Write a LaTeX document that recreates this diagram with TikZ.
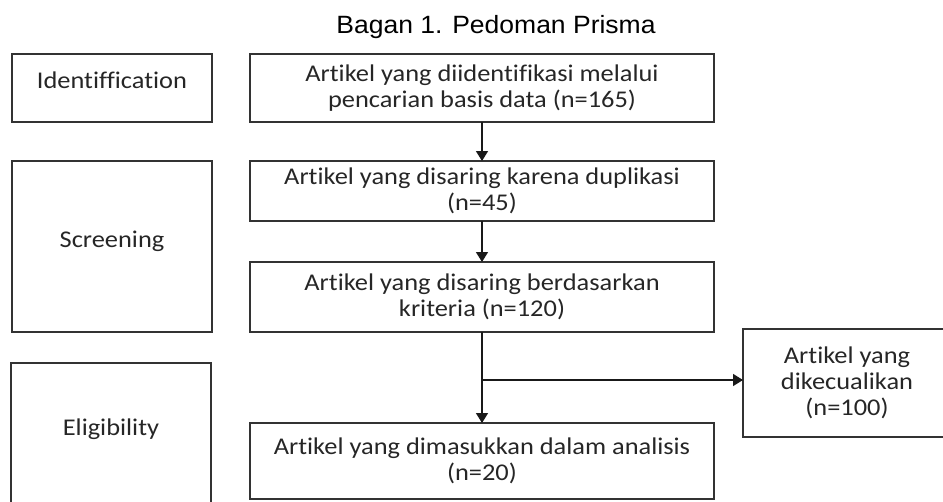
\documentclass[tikz,border=0pt]{standalone}
\usepackage{fontspec}
\setmainfont{Carlito}[FakeStretch=1.1, Ligatures=NoCommon]
\newfontfamily\titlefont{Liberation Sans}[FakeStretch=1.06]
\usetikzlibrary{positioning, arrows.meta}

\begin{document}
\begin{tikzpicture}[x=1pt, y=-1pt, >={Triangle[length=10pt,width=12pt]},
    box/.style={draw=black!80, line width=1.8pt, rectangle, minimum width=464pt, align=center,
        inner sep=0pt, outer sep=0pt, font=\fontsize{24}{26}\selectfont, text=black!85},
    stagebox/.style={draw=black!80, line width=1.8pt, rectangle, minimum width=200pt,
        inner sep=0pt, outer sep=0pt},
    stagetext/.style={font=\fontsize{24}{26}\selectfont, text=black!85},
    flow/.style={->, line width=1.5pt, black!90}]
    \useasboundingbox (0,0) rectangle (943,501);

    \node[font=\titlefont\fontsize{25}{30}\selectfont, anchor=base] (title) at (496,33) {Bagan 1. Pedoman Prisma};

    % main column
    \node[box, minimum height=68pt] (search) at (482,88) {Artikel yang diidentifikasi melalui\\pencarian basis data (n=165)};
    \node[box, minimum height=60pt, below=39pt of search] (dup) {Artikel yang disaring karena duplikasi\\(n=45)};
    \node[box, minimum height=70pt, below=41pt of dup] (crit) {Artikel yang disaring berdasarkan\\kriteria (n=120)};
    \node[box, minimum height=76pt, below=91pt of crit] (incl) {Artikel yang dimasukkan dalam analisis\\(n=20)};
    \node[box, minimum width=208pt, minimum height=108pt, anchor=north west] (excl) at (743,329) {Artikel yang\\dikecualikan\\(n=100)};

    % stages
    \node[stagebox, minimum height=68pt, left=38pt of search] (ident) {};
    \node[stagebox, minimum height=171pt, anchor=north east] (screen) at ([xshift=-38pt]dup.north west) {};
    \node[stagebox, minimum height=152pt, anchor=north east] (elig) at ([xshift=-39pt,yshift=-31pt]crit.south west) {};
    \node[stagetext] (identtext) at ([yshift=8pt]ident.center) {Identiffication};
    \node[stagetext] (screentext) at ([yshift=5pt]screen.center) {Screening};
    \node[stagetext] (eligtext) at ([yshift=-66pt]elig.north) {Eligibility};

    % arrows
    \coordinate (split) at (483,380);
    \draw[flow] (search) -- (dup);
    \draw[flow] (dup) -- (crit);
    \draw[flow] (crit) -- (incl);
    \draw[flow] (split) -- (split -| excl.west);
\end{tikzpicture}
\end{document}
